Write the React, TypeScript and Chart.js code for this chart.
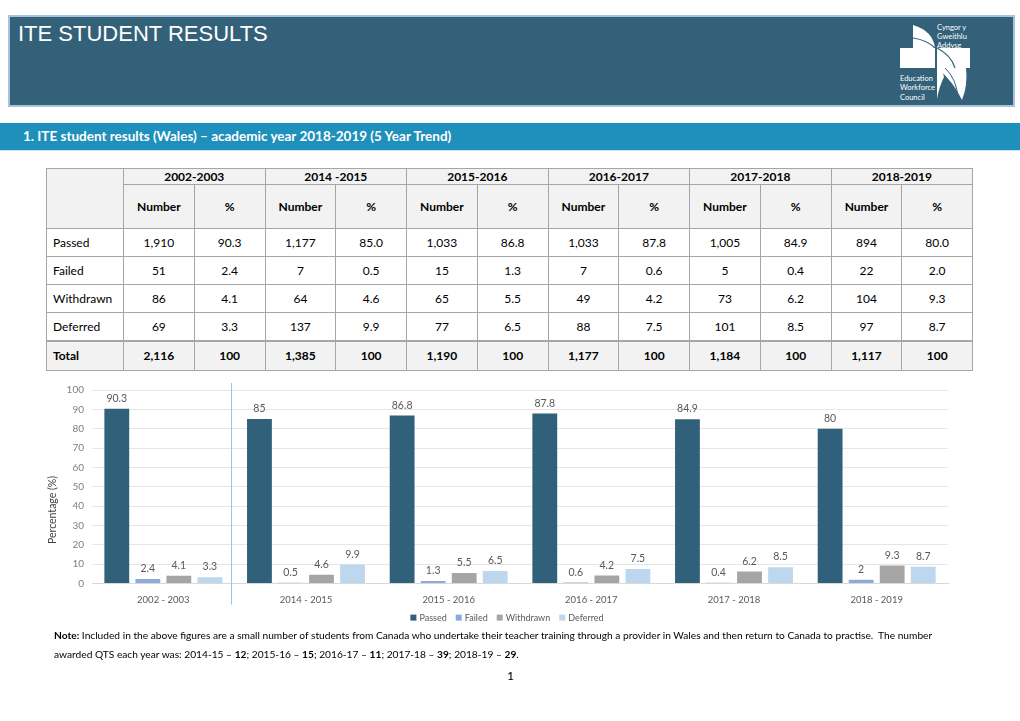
import React, { useEffect, useRef } from "react";
import { Chart, registerables } from "chart.js";

Chart.register(...registerables);

const years = ["2002-2003", "2014 -2015", "2015-2016", "2016-2017", "2017-2018", "2018-2019"];
const chartCategories = ["2002 - 2003", "2014 - 2015", "2015 - 2016", "2016 - 2017", "2017 - 2018", "2018 - 2019"];
const rowLabels = ["Passed", "Failed", "Withdrawn", "Deferred"];

const passedNum = ["1,910", "1,177", "1,033", "1,033", "1,005", "894"];
const failedNum = ["51", "7", "15", "7", "5", "22"];
const withdrawnNum = ["86", "64", "65", "49", "73", "104"];
const deferredNum = ["69", "137", "77", "88", "101", "97"];
const totalNum = ["2,116", "1,385", "1,190", "1,177", "1,184", "1,117"];

const passedPct = [90.3, 85.0, 86.8, 87.8, 84.9, 80.0];
const failedPct = [2.4, 0.5, 1.3, 0.6, 0.4, 2.0];
const withdrawnPct = [4.1, 4.6, 5.5, 4.2, 6.2, 9.3];
const deferredPct = [3.3, 9.9, 6.5, 7.5, 8.5, 8.7];

const seriesColors = ["#31607a", "#8eaadb", "#a5a5a5", "#bdd7ee"];
const yTitle = "Percentage (%)";

const FONT = "Lato, 'Noto Sans', sans-serif";

const barLabelPlugin = {
  id: "barLabels",
  afterDatasetsDraw(chart: any) {
    const ctx = chart.ctx;
    const area = chart.chartArea;
    ctx.save();
    ctx.font = `10.5px ${FONT}`;
    ctx.fillStyle = "#595959";
    ctx.textAlign = "center";
    ctx.textBaseline = "bottom";
    chart.data.datasets.forEach((ds: any, di: number) => {
      const meta = chart.getDatasetMeta(di);
      meta.data.forEach((bar: any, i: number) => {
        const v = ds.data[i];
        ctx.fillText(String(v), bar.x, bar.y - 5);
      });
    });
    // separator line between first and second category
    const xs = chart.scales.x;
    const x = Math.round((xs.getPixelForValue(0) + xs.getPixelForValue(1)) / 2 - 4) + 0.5;
    ctx.strokeStyle = "#9dc3e6";
    ctx.lineWidth = 1;
    ctx.beginPath();
    ctx.moveTo(x, area.top - 7);
    ctx.lineTo(x, area.bottom + 21);
    ctx.stroke();

    // y axis title
    ctx.save();
    ctx.translate(13, area.top + (area.bottom - area.top) * 0.62);
    ctx.rotate(-Math.PI / 2);
    ctx.font = `10.5px ${FONT}`;
    ctx.fillStyle = "#404040";
    ctx.textAlign = "center";
    ctx.textBaseline = "middle";
    ctx.fillText(yTitle, 0, 0);
    ctx.restore();

    // legend (drawn from the datasets)
    ctx.font = `9px ${FONT}`;
    ctx.textBaseline = "middle";
    ctx.textAlign = "left";
    const box = 6;
    const gap = 3;
    const spacing = 9;
    const items = chart.data.datasets.map((ds: any) => ({
      label: ds.label,
      color: ds.backgroundColor,
      w: box + gap + ctx.measureText(ds.label).width,
    }));
    const total = items.reduce((s: number, it: any) => s + it.w, 0) + spacing * (items.length - 1);
    let lx = 467 - total / 2;
    const ly = area.bottom + 34;
    items.forEach((it: any) => {
      ctx.fillStyle = it.color;
      ctx.fillRect(lx, ly - box / 2, box, box);
      ctx.fillStyle = "#595959";
      ctx.fillText(it.label, lx + box + gap, ly);
      lx += it.w + spacing;
    });
    ctx.restore();
  },
};

function BarChart() {
  const ref = useRef<HTMLCanvasElement | null>(null);
  useEffect(() => {
    if (!ref.current) return;
    const chart = new Chart(ref.current, {
      type: "bar",
      data: {
        labels: chartCategories,
        datasets: [
          { label: "Passed", data: passedPct, backgroundColor: seriesColors[0] },
          { label: "Failed", data: failedPct, backgroundColor: seriesColors[1] },
          { label: "Withdrawn", data: withdrawnPct, backgroundColor: seriesColors[2] },
          { label: "Deferred", data: deferredPct, backgroundColor: seriesColors[3] },
        ],
      },
      options: {
        responsive: false,
        animation: false,
        maintainAspectRatio: false,
        layout: { padding: { top: 7, right: 12, bottom: 30, left: 0 } },
        datasets: { bar: { categoryPercentage: 0.87, barPercentage: 0.8 } },
        plugins: {
          legend: { display: false },
          tooltip: { enabled: false },
        },
        scales: {
          x: {
            grid: { display: false },
            border: { color: "#d9d9d9" },
            ticks: { color: "#595959", font: { family: FONT, size: 9.5 }, padding: 3 },
          },
          y: {
            min: 0,
            max: 100,
            ticks: { stepSize: 10, color: "#7f7f7f", font: { family: FONT, size: 10 }, padding: 8 },
            grid: { color: "#e6e6e6", drawTicks: false },
            border: { display: false },
            afterFit(scale: any) {
              scale.width = 52;
            },
          },
        },
      },
      plugins: [barLabelPlugin],
    } as any);
    return () => chart.destroy();
  }, []);
  return (
    <canvas
      ref={ref}
      width={920}
      height={263}
      style={{ position: "absolute", left: 40, top: 376, width: 920, height: 263 }}
    />
  );
}

const cellBorder = "1px solid #a6a6a6";

function DataTable() {
  const numRows = [passedNum, failedNum, withdrawnNum, deferredNum];
  const pctRows = [passedPct, failedPct, withdrawnPct, deferredPct];
  const base: React.CSSProperties = {
    border: cellBorder,
    textAlign: "center",
    padding: 0,
    fontSize: 12,
    color: "#000",
  };
  return (
    <table
      style={{
        position: "absolute",
        left: 46,
        top: 168,
        width: 926,
        borderCollapse: "collapse",
        tableLayout: "fixed",
        fontFamily: FONT,
      }}
    >
      <colgroup>
        <col style={{ width: 77 }} />
        {Array.from({ length: 12 }).map((_, i) => (
          <col key={i} style={{ width: 70.75 }} />
        ))}
      </colgroup>
      <tbody>
        <tr style={{ height: 16, background: "#f2f2f2" }}>
          <td rowSpan={2} style={{ ...base }}></td>
          {years.map((y) => (
            <td key={y} colSpan={2} style={{ ...base, fontWeight: 700, lineHeight: "15px" }}>
              {y}
            </td>
          ))}
        </tr>
        <tr style={{ height: 44, background: "#f2f2f2" }}>
          {years.map((y) => (
            <React.Fragment key={y}>
              <td style={{ ...base, fontWeight: 700 }}>Number</td>
              <td style={{ ...base, fontWeight: 700 }}>%</td>
            </React.Fragment>
          ))}
        </tr>
        {rowLabels.map((lab, r) => (
          <tr key={lab} style={{ height: 28 }}>
            <td style={{ ...base, textAlign: "left", paddingLeft: 6 }}>{lab}</td>
            {years.map((y, c) => (
              <React.Fragment key={y}>
                <td style={base}>{numRows[r][c]}</td>
                <td style={base}>{pctRows[r][c].toFixed(1)}</td>
              </React.Fragment>
            ))}
          </tr>
        ))}
        <tr style={{ height: 30, background: "#f2f2f2" }}>
          <td style={{ ...base, textAlign: "left", paddingLeft: 6, fontWeight: 700, borderTop: "2px solid #a6a6a6" }}>
            Total
          </td>
          {years.map((y, c) => (
            <React.Fragment key={y}>
              <td style={{ ...base, fontWeight: 700, borderTop: "2px solid #a6a6a6" }}>{totalNum[c]}</td>
              <td style={{ ...base, fontWeight: 700, borderTop: "2px solid #a6a6a6" }}>100</td>
            </React.Fragment>
          ))}
        </tr>
      </tbody>
    </table>
  );
}

function Logo() {
  return (
    <svg
      width={85}
      height={86}
      viewBox="0 0 85 86"
      style={{ position: "absolute", left: 895, top: 19 }}
    >
      <path d="M18 6 Q38 12 40 29 L18 29 Z" fill="#fff" />
      <path d="M18 19 Q32 21 40 29" stroke="#336179" strokeWidth={1.2} fill="none" />
      <rect x={5} y={29} width={35} height={20} fill="#fff" />
      <rect x={42} y={29} width={33} height={20} fill="#fff" />
      <path d="M42 29 Q56 36 60 49" stroke="#336179" strokeWidth={1.2} fill="none" />
      <path d="M42 49 L71 49 Q73 66 67 81 Q58 62 42 49 Z" fill="#fff" />
      <path d="M42 31 L42 80 Q44 68 49 58 Z" fill="#fff" />
      <path d="M50 49 Q62 60 63 80" stroke="#336179" strokeWidth={1} fill="none" />
      <g fill="#fff" fontFamily={FONT} fontSize={7.5}>
        <text x={42} y={11}>Cyngor y</text>
        <text x={42} y={20}>Gweithlu</text>
        <text x={42} y={29}>Addysg</text>
        <text x={5} y={62}>Education</text>
        <text x={5} y={71}>Workforce</text>
        <text x={5} y={81}>Council</text>
      </g>
    </svg>
  );
}

export default function App() {
  return (
    <div
      style={{
        position: "absolute",
        left: 0,
        top: 0,
        width: 1020,
        height: 721,
        overflow: "hidden",
        background: "#fff",
        fontFamily: FONT,
      }}
    >
      <div
        style={{
          position: "absolute",
          left: 8,
          top: 15,
          width: 1007,
          height: 92,
          boxSizing: "border-box",
          background: "#336179",
          border: "2px solid #a9c3d8",
        }}
      >
        <div
          style={{
            position: "absolute",
            left: 8,
            top: 4,
            color: "#fff",
            fontFamily: "'Liberation Sans', Arial, sans-serif",
            fontSize: 22,
          }}
        >
          ITE STUDENT RESULTS
        </div>
      </div>
      <Logo />
      <div
        style={{
          position: "absolute",
          left: 0,
          top: 123,
          width: 1020,
          height: 27,
          background: "#1f8fbb",
          borderBottom: "1px solid #c5e0ee",
        }}
      >
        <div
          style={{
            position: "absolute",
            left: 23,
            top: 5,
            color: "#fff",
            fontWeight: 700,
            fontSize: 13.5,
            whiteSpace: "nowrap",
          }}
        >
          1. ITE student results (Wales) – academic year 2018-2019 (5 Year Trend)
        </div>
      </div>
      <DataTable />
      <BarChart />
      <div
        style={{
          position: "absolute",
          left: 54,
          top: 626,
          fontSize: 10.2,
          lineHeight: "19px",
          color: "#000",
          whiteSpace: "nowrap",
        }}
      >
        <b>Note:</b> Included in the above figures are a small number of students from Canada who undertake their
        teacher training through a provider in Wales and then return to Canada to practise.&nbsp; The number
        <br />
        awarded QTS each year was: 2014-15 – <b>12</b>; 2015-16 – <b>15</b>; 2016-17 – <b>11</b>; 2017-18 –{" "}
        <b>39</b>; 2018-19 – <b>29</b>.
      </div>
      <div style={{ position: "absolute", left: 507, top: 668, fontSize: 12, color: "#000" }}>1</div>
    </div>
  );
}
